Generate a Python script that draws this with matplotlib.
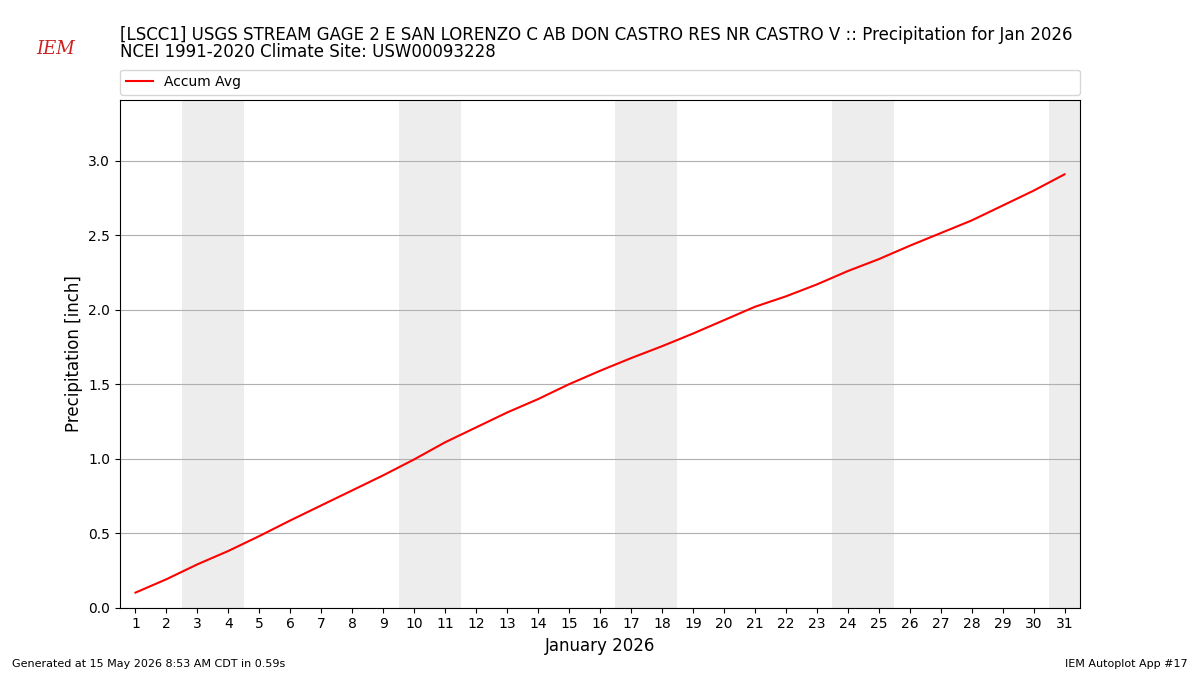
import matplotlib
matplotlib.use("Agg")
import matplotlib.pyplot as plt

days = list(range(1, 32))
accum_avg = [0.10, 0.19, 0.29, 0.38, 0.48, 0.585, 0.686, 0.787, 0.888, 0.995,
             1.11, 1.21, 1.31, 1.40, 1.50, 1.59, 1.675, 1.755, 1.84, 1.93,
             2.02, 2.09, 2.17, 2.26, 2.34, 2.43, 2.515, 2.60, 2.70, 2.80, 2.91]
weekend_days = [3, 4, 10, 11, 17, 18, 24, 25, 31]

fig = plt.figure(figsize=(12, 6.75), dpi=100)
ax = fig.add_axes([0.1, 0.1, 0.8, 0.752])

for d in weekend_days:
    ax.axvspan(d - 0.5, d + 0.5, color="#ededed", zorder=0, lw=0)

ax.plot(days, accum_avg, color="red", label="Accum Avg", zorder=3)
ax.set_xlim(0.5, 31.5)
ax.set_ylim(0, 3.41)
ax.set_xticks(days)
ax.set_yticks([0, 0.5, 1.0, 1.5, 2.0, 2.5, 3.0])
ax.grid(axis="y", color="#b0b0b0", zorder=1)
ax.set_axisbelow(True)
ax.set_xlabel("January 2026", fontsize=12)
ax.set_ylabel("Precipitation [inch]", fontsize=12)

ax.legend(loc="lower left", bbox_to_anchor=(0, 1.01, 1, 0.1), mode="expand",
          ncol=1, fontsize=10, borderaxespad=0, handlelength=2)

fig.text(0.1, 0.935, "[LSCC1] USGS STREAM GAGE 2 E SAN LORENZO C AB DON CASTRO RES NR CASTRO V :: Precipitation for Jan 2026",
         fontsize=12, va="bottom")
fig.text(0.1, 0.91, "NCEI 1991-2020 Climate Site: USW00093228", fontsize=12, va="bottom")
fig.text(0.01, 0.012, "Generated at 15 May 2026 8:53 AM CDT in 0.59s", fontsize=8)
fig.text(0.99, 0.012, "IEM Autoplot App #17", fontsize=8, ha="right")
fig.text(0.03, 0.92, "IEM", fontsize=13, color="#cc2222", style="italic", family="serif")

fig.savefig("out.png")
